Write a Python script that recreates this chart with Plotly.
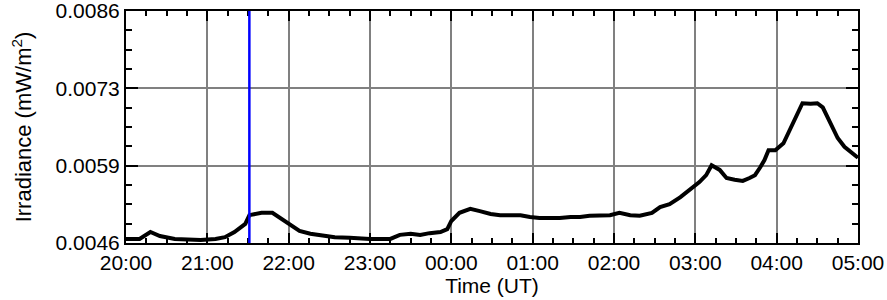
import plotly.graph_objects as go
from datetime import datetime, timedelta

# Time stamps (UT) and irradiance (mW/m^2)
times = ["20:00", "20:10", "20:18", "20:25", "20:36", "20:55", "21:06", "21:13", "21:20", "21:28",
         "21:31", "21:40", "21:48", "21:54", "22:01", "22:08", "22:16", "22:23", "22:34", "22:45",
         "23:00", "23:15", "23:22", "23:30", "23:37", "23:44", "23:52", "23:57", "00:00", "00:06",
         "00:14", "00:21", "00:29", "00:36", "00:43", "00:51", "00:58", "01:05", "01:13", "01:20",
         "01:28", "01:35", "01:42", "01:50", "01:57", "02:04", "02:12", "02:19", "02:28", "02:34",
         "02:41", "02:49", "02:56", "03:03", "03:08", "03:12", "03:18", "03:23", "03:29", "03:35",
         "03:40", "03:44", "03:48", "03:51", "03:54", "03:59", "04:05", "04:10", "04:15", "04:19",
         "04:25", "04:30", "04:34", "04:39", "04:45", "04:50", "04:56", "05:00"]
irradiance = [0.00467, 0.00467, 0.00479, 0.00472, 0.00467, 0.00465, 0.00467, 0.00470, 0.00479, 0.00493,
              0.00508, 0.00512, 0.00512, 0.00503, 0.00491, 0.00481, 0.00476, 0.00474, 0.00470, 0.00469,
              0.00467, 0.00467, 0.00474, 0.00476, 0.00474, 0.00477, 0.00479, 0.00484, 0.00498, 0.00512,
              0.00519, 0.00515, 0.00510, 0.00508, 0.00508, 0.00508, 0.00505, 0.00503, 0.00503, 0.00503,
              0.00505, 0.00505, 0.00507, 0.00507, 0.00508, 0.00512, 0.00508, 0.00507, 0.00512, 0.00522,
              0.00527, 0.00539, 0.00551, 0.00565, 0.00577, 0.00594, 0.00586, 0.00572, 0.00569, 0.00567,
              0.00572, 0.00577, 0.00591, 0.00603, 0.00620, 0.00620, 0.00632, 0.00658, 0.00684, 0.00701,
              0.00700, 0.00701, 0.00694, 0.00669, 0.00641, 0.00626, 0.00615, 0.00607]

y_tickvals = [0.0046, 0.0059333, 0.0072667, 0.0086]
y_ticktext = ["0.0046", "0.0059", "0.0073", "0.0086"]
x_ticklabels = ["20:00", "21:00", "22:00", "23:00", "00:00", "01:00", "02:00", "03:00", "04:00", "05:00"]
marker_time = "21:31"

day0 = datetime(2024, 1, 1)


def to_dt(s):
    h, m = map(int, s.split(":"))
    d = day0 + timedelta(hours=h, minutes=m)
    if h < 12:
        d += timedelta(days=1)
    return d


xs = [to_dt(t) for t in times]
x_tickvals = [to_dt(t) for t in x_ticklabels]
mx = to_dt(marker_time)

fig = go.Figure()
fig.add_trace(go.Scatter(x=xs, y=irradiance, mode="lines",
                         line=dict(color="black", width=4), showlegend=False))
fig.add_shape(type="line", x0=mx, x1=mx, y0=0, y1=1, xref="x", yref="paper",
              line=dict(color="#0000ff", width=2.5))

fam = "Liberation Sans, Arial, sans-serif"
tick_font = dict(family=fam, size=21, color="black")
title_font = dict(family=fam, size=22, color="black")

fig.update_layout(
    width=887, height=300,
    margin=dict(l=126, r=29, t=11, b=57),
    paper_bgcolor="white", plot_bgcolor="white",
    font=tick_font,
    xaxis=dict(
        automargin=False, ticklabeloverflow="allow",
        range=[x_tickvals[0], x_tickvals[-1]],
        tickvals=x_tickvals, ticktext=x_ticklabels, tickfont=tick_font,
        ticks="inside", ticklen=10, tickwidth=1.5, tickcolor="black",
        minor=dict(dtick=15 * 60 * 1000, tick0=x_tickvals[0], ticks="inside", ticklen=5,
                   tickwidth=1.5, tickcolor="black", showgrid=False),
        showgrid=True, gridcolor="#808080", gridwidth=2,
        showline=True, linecolor="black", linewidth=2, mirror="allticks",
        title=dict(text="Time (UT)", standoff=0, font=dict(family=fam, size=21, color="black")),
        zeroline=False,
    ),
    yaxis=dict(
        automargin=False, ticklabeloverflow="allow",
        range=[0.0046, 0.0086],
        tickvals=y_tickvals, ticktext=y_ticktext, tickfont=tick_font,
        ticks="inside", ticklen=12, tickwidth=1.5, tickcolor="black",
        minor=dict(dtick=(0.0086 - 0.0046) / 12, tick0=0.0046, ticks="inside", ticklen=6,
                   tickwidth=1.5, tickcolor="black", showgrid=False),
        showgrid=True, gridcolor="#808080", gridwidth=2,
        showline=True, linecolor="black", linewidth=2, mirror="allticks",
        title=dict(text="Irradiance (mW/m<sup>2</sup>)", standoff=18, font=title_font),
        zeroline=False,
    ),
)

fig.write_html("out.html", config={"displayModeBar": False},
               post_script="document.body.style.margin='0';document.body.style.overflow='hidden';")
